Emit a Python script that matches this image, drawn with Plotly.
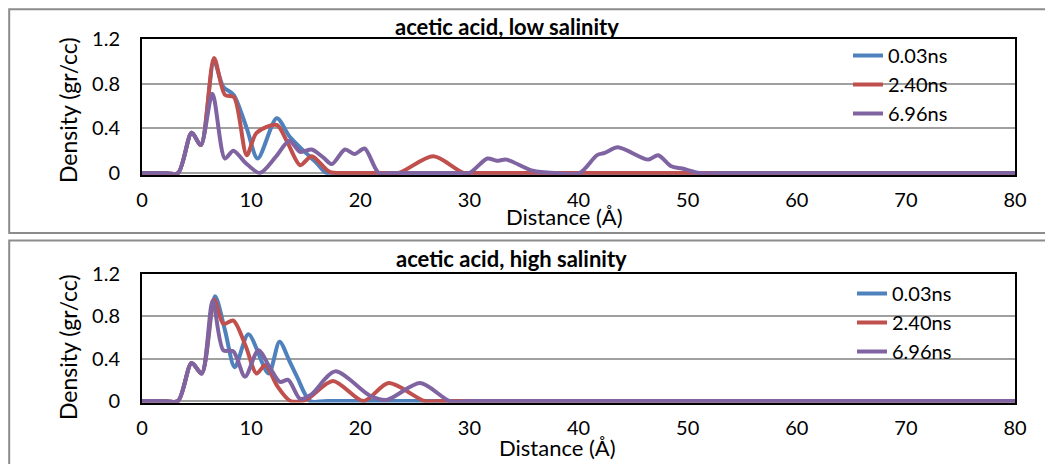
import plotly.graph_objects as go

# ---------------- data ----------------
series_names = ["0.03ns", "2.40ns", "6.96ns"]
colors = ["#4F81BD", "#C0504D", "#8064A2"]

# low salinity
low_x_003 = [0, 2, 3.3, 4.55, 5.4, 6.6, 7.45, 8.4, 9.6, 10.6, 12.35, 13.5, 14.8, 16.0, 16.9, 18, 20, 78, 80]
low_y_003 = [0, 0, 0, 0.36, 0.25, 1.0, 0.77, 0.70, 0.40, 0.13, 0.49, 0.33, 0.20, 0.09, 0, 0, 0, 0, 0]
low_x_240 = [0, 2, 3.3, 4.55, 5.4, 6.6, 7.6, 8.43, 9.6, 10.5, 12.35, 13.3, 14.5, 15.55, 17.2, 19, 22,
             23.5, 26.7, 29.5, 31, 78, 80]
low_y_240 = [0, 0, 0, 0.36, 0.25, 1.03, 0.70, 0.68, 0.16, 0.36, 0.43, 0.28, 0.07, 0.15, 0.01, 0, 0,
             0, 0.15, 0, 0, 0, 0]
low_x_696 = [0, 2, 3.3, 4.55, 5.38, 6.45, 7.6, 8.37, 9.5, 10.8, 12.3, 13.5, 14.5, 15.55, 16.6, 17.4, 18.6,
             19.5, 20.4, 21.7, 23, 29, 30.0, 31.65, 32.5, 33.4, 35.8, 38, 40.1, 41.7, 42.4, 43.6, 46.4,
             47.3, 48.5, 49.5, 51.1, 53, 78, 80]
low_y_696 = [0, 0, 0, 0.36, 0.25, 0.71, 0.13, 0.2, 0.09, 0, 0.15, 0.29, 0.19, 0.21, 0.14, 0.08, 0.21,
             0.17, 0.22, 0, 0, 0, 0, 0.13, 0.11, 0.12, 0.02, 0, 0, 0.16, 0.18, 0.23, 0.12,
             0.16, 0.06, 0.04, 0, 0, 0, 0]

# high salinity
high_x_003 = [0, 2, 3.3, 4.55, 5.47, 6.69, 7.6, 8.5, 9.75, 11.6, 12.6, 13.5, 14.2, 15.4, 17, 78, 80]
high_y_003 = [0, 0, 0, 0.36, 0.26, 0.99, 0.67, 0.32, 0.63, 0.26, 0.56, 0.38, 0.23, 0, 0, 0, 0]
high_x_240 = [0, 2, 3.3, 4.55, 5.47, 6.6, 7.45, 8.37, 9.5, 10.5, 11.3, 12.4, 13.6, 15, 17.5, 20.3,
              22.6, 25.9, 27.5, 78, 80]
high_y_240 = [0, 0, 0, 0.36, 0.26, 0.96, 0.73, 0.76, 0.52, 0.26, 0.34, 0.14, 0, 0.01, 0.19, 0,
              0.17, 0, 0, 0, 0]
high_x_696 = [0, 2, 3.3, 4.55, 5.47, 6.48, 7.45, 8.37, 9.44, 10.66, 11.7, 12.65, 13.4, 14.5, 15.5, 17.7,
              20.9, 22.4, 25.5, 28.2, 30, 78, 80]
high_y_696 = [0, 0, 0, 0.36, 0.26, 0.95, 0.48, 0.47, 0.23, 0.48, 0.32, 0.18, 0.2, 0.02, 0.06, 0.28,
              0.05, 0.01, 0.17, 0, 0, 0, 0]

x_ticks = [0, 10, 20, 30, 40, 50, 60, 70, 80]
y_ticks = [0, 0.4, 0.8, 1.2]
y_ticktext = ["0", "0.4", "0.8", "1.2"]
titles = ["acetic acid, low salinity", "acetic acid, high salinity"]
x_title = "Distance (Å)"
y_title = "Density (gr/cc)"

# ---------------- figure ----------------
# page body has an 8px margin; the figure is placed so that screen pixel p maps to p-8
OFF = 8
FW, FH = 1045, 456
FONT = "Lato, 'Liberation Sans', sans-serif"
fig = go.Figure()

panels = [
    ([low_x_003, low_x_240, low_x_696], [low_y_003, low_y_240, low_y_696], "x", "y", "legend"),
    ([high_x_003, high_x_240, high_x_696], [high_y_003, high_y_240, high_y_696], "x2", "y2", "legend2"),
]
for xs, ys, xa, ya, lg in panels:
    for name, c, xv, yv in zip(series_names, colors, xs, ys):
        fig.add_trace(go.Scatter(
            x=xv, y=yv, name=name, mode="lines",
            line=dict(color=c, width=4, shape="spline", smoothing=0.8),
            xaxis=xa, yaxis=ya, legend=lg, showlegend=True,
        ))

def px(p):
    return (p - OFF) / FW

def py(p):
    return 1 - (p - OFF) / FH

xdom = [px(142), px(1015)]
ydom_top = [py(174.7), py(39)]
ydom_bot = [py(402.6), py(274)]

xcommon = dict(range=[0, 80], tickvals=x_ticks, showgrid=False, zeroline=False,
               showline=True, linecolor="black", linewidth=2, mirror=True, ticks="",
               tickfont=dict(family=FONT, size=20, color="black"), ticklabelstandoff=6,
               domain=xdom, automargin=False)
ycommon = dict(range=[-0.015, 1.2], tickvals=y_ticks, ticktext=y_ticktext, showgrid=True,
               gridcolor="#A0A0A0", gridwidth=1.5, zeroline=False,
               showline=True, linecolor="black", linewidth=2, mirror=True, ticks="",
               tickfont=dict(family=FONT, size=20, color="black"), ticklabelstandoff=16,
               automargin=False)

fig.update_layout(
    template="none",
    width=FW, height=FH, margin=dict(l=0, r=0, t=0, b=0, pad=0, autoexpand=False),
    paper_bgcolor="white", plot_bgcolor="white",
    font=dict(family=FONT, size=20, color="black"),
    xaxis=dict(**xcommon, anchor="y"),
    yaxis=dict(**ycommon, domain=ydom_top, anchor="x"),
    xaxis2=dict(**xcommon, anchor="y2"),
    yaxis2=dict(**ycommon, domain=ydom_bot, anchor="x2"),
    legend=dict(x=px(848), y=py(36), xanchor="left", yanchor="top",
                bgcolor="rgba(0,0,0,0)", font=dict(family=FONT, size=20),
                tracegroupgap=0, itemwidth=30),
    legend2=dict(x=px(852), y=py(274), xanchor="left", yanchor="top",
                 bgcolor="rgba(0,0,0,0)", font=dict(family=FONT, size=20),
                 tracegroupgap=0, itemwidth=30),
    showlegend=True,
)

annotations = [
    dict(text="<b>" + titles[0] + "</b>", x=px(507), y=py(27), xref="paper", yref="paper",
         xanchor="center", yanchor="middle", showarrow=False, font=dict(family=FONT, size=22)),
    dict(text="<b>" + titles[1] + "</b>", x=px(511), y=py(258), xref="paper", yref="paper",
         xanchor="center", yanchor="middle", showarrow=False, font=dict(family=FONT, size=22)),
    dict(text=x_title, x=px(564), y=py(216), xref="paper", yref="paper",
         xanchor="center", yanchor="middle", showarrow=False, font=dict(family=FONT, size=22)),
    dict(text=x_title, x=px(557), y=py(447), xref="paper", yref="paper",
         xanchor="center", yanchor="middle", showarrow=False, font=dict(family=FONT, size=22)),
    dict(text=y_title, x=px(68), y=py(110), xref="paper", yref="paper", textangle=-90,
         xanchor="center", yanchor="middle", showarrow=False, font=dict(family=FONT, size=23)),
    dict(text=y_title, x=px(68), y=py(347), xref="paper", yref="paper", textangle=-90,
         xanchor="center", yanchor="middle", showarrow=False, font=dict(family=FONT, size=23)),
]
fig.update_layout(annotations=annotations)

shapes = [
    dict(type="rect", xref="paper", yref="paper", x0=px(9.2), x1=1.02, y0=py(233), y1=py(9.2),
         line=dict(color="#8C8C8C", width=2)),
    dict(type="rect", xref="paper", yref="paper", x0=px(9.2), x1=1.02, y0=-0.05, y1=py(240.5),
         line=dict(color="#8C8C8C", width=2)),
]
fig.update_layout(shapes=shapes)

fig.write_html("out.html")
